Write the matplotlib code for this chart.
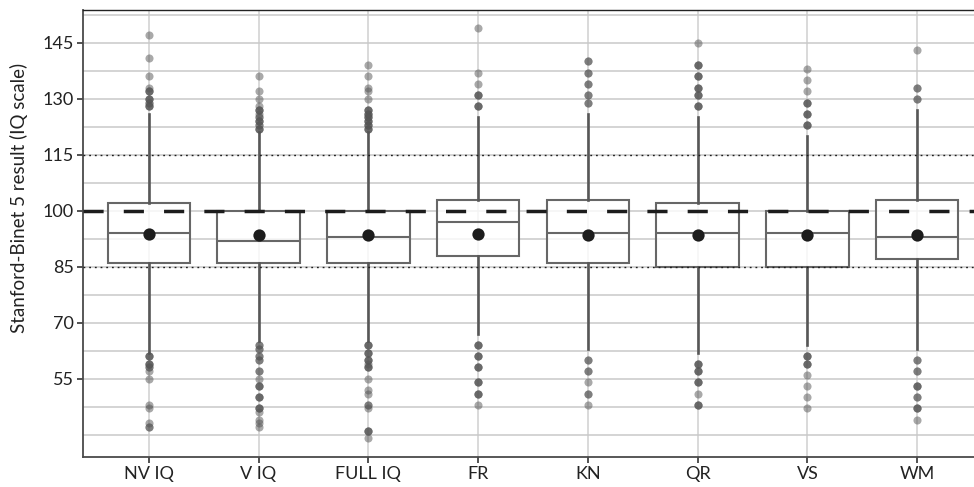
import numpy as np
import matplotlib
matplotlib.use('Agg')
import matplotlib.pyplot as plt

plt.rcParams['font.family'] = ['Lato', 'DejaVu Sans']
plt.rcParams['lines.scale_dashes'] = False

# Data
categories = ['NV IQ', 'V IQ', 'FULL IQ', 'FR', 'KN', 'QR', 'VS', 'WM']
q1 = [86, 86, 86, 88, 86, 85, 85, 87]
median = [94, 92, 93, 97, 94, 94, 94, 93]
q3 = [102, 100, 100, 103, 103, 102, 100, 103]
whisker_lo = [62, 65, 65, 67, 63, 62, 64, 63]
whisker_hi = [126, 121, 121, 125, 126, 125, 120, 127]
means = [93.8, 93.6, 93.4, 93.7, 93.6, 93.6, 93.4, 93.4]

# repeated values = several children with the same score (darker dots)
outliers = [
    [147, 141, 136, 133, 132, 132, 132, 130, 130, 130, 129, 129, 128, 128, 128,
     61, 61, 61, 59, 59, 59, 58, 58, 57, 55, 48, 47, 43, 42, 42],
    [136, 132, 130, 128, 127, 127, 127, 126, 125, 125, 124, 124, 124, 123, 123,
     122, 122, 122,
     64, 64, 63, 63, 61, 61, 60, 60, 57, 57, 55, 53, 53, 53, 50, 50, 50,
     47, 47, 47, 46, 44, 43, 42],
    [139, 136, 133, 132, 130, 127, 127, 127, 126, 126, 126, 125, 125, 125,
     124, 124, 124, 123, 123, 123, 122, 122, 122,
     64, 64, 64, 62, 62, 62, 60, 60, 60, 59, 58, 58, 58, 55, 52, 51, 48, 48,
     47, 41, 41, 41, 39],
    [149, 137, 134, 131, 131, 131, 128, 128, 128,
     64, 64, 64, 61, 61, 61, 58, 58, 58, 54, 54, 54, 51, 51, 51, 48],
    [140, 140, 137, 137, 134, 134, 131, 131, 129, 129,
     60, 60, 57, 57, 54, 51, 51, 48],
    [145, 139, 139, 139, 136, 136, 136, 133, 133, 133, 131, 131, 131,
     128, 128, 128,
     59, 59, 59, 57, 57, 57, 54, 54, 54, 51, 48, 48, 48],
    [138, 135, 132, 129, 129, 129, 126, 126, 126, 123, 123, 123,
     61, 61, 61, 59, 59, 59, 56, 53, 50, 47],
    [143, 133, 133, 130, 130,
     60, 60, 57, 57, 53, 53, 53, 50, 50, 47, 47, 47, 44],
]

yticks = [55, 70, 85, 100, 115, 130, 145]

fig = plt.figure(figsize=(9.74, 4.87), dpi=100)
ax = fig.add_axes([83 / 974, 30 / 487, 900 / 974, 447 / 487])

pos = np.arange(1, len(categories) + 1)

stats = []
for i, name in enumerate(categories):
    stats.append({'label': name, 'q1': q1[i], 'med': median[i], 'q3': q3[i],
                  'whislo': whisker_lo[i], 'whishi': whisker_hi[i],
                  'mean': means[i], 'fliers': []})

bp = ax.bxp(stats, positions=pos, widths=0.75, patch_artist=True,
            showfliers=False, showcaps=False, showmeans=False,
            boxprops=dict(facecolor=(1, 1, 1, 0.8), edgecolor='#676767', linewidth=1.5),
            medianprops=dict(color='#676767', linewidth=1.5),
            whiskerprops=dict(color='#575757', linewidth=1.9),
            zorder=2)

# outliers with transparency so ties look darker
for i, vals in enumerate(outliers):
    ax.scatter(np.full(len(vals), pos[i]), vals, s=34, color='#555555',
               alpha=0.5, linewidths=0, zorder=2.5)

ax.scatter(pos, means, s=78, color='#1c1c1c', linewidths=0, zorder=5)

# reference lines
ax.axhline(100, color='#1c1c1c', lw=2.5, dashes=(14.5, 14.5), zorder=4)
ax.axhline(115, color='#1c1c1c', lw=1.0, dashes=(1.3, 2.8), zorder=4)
ax.axhline(85, color='#1c1c1c', lw=1.0, dashes=(1.3, 2.8), zorder=4)

ax.set_xlim(0.4, 8.6)
ax.set_ylim(34, 153.8)
ax.set_xticks(pos)
ax.set_xticklabels(categories)
ax.set_yticks(yticks)
ax.set_yticks([40, 47.5, 62.5, 77.5, 92.5, 107.5, 122.5, 137.5, 152.5], minor=True)

ax.grid(True, which='both', axis='y', color='#c9c9c9', lw=1.1, zorder=0)
ax.grid(True, which='major', axis='x', color='#cfcfcf', lw=1.1, zorder=0)
ax.set_axisbelow(True)

for side in ['left', 'bottom']:
    ax.spines[side].set_color('#4a4a4a')
    ax.spines[side].set_linewidth(1.3)
ax.spines['top'].set_color('#222222')
ax.spines['top'].set_linewidth(1.0)

ax.tick_params(axis='both', which='major', length=4.5, width=1.2, color='#333333',
               labelsize=13, labelcolor='#222222', pad=2)
ax.tick_params(axis='y', which='minor', length=0)

ax.set_ylabel('Stanford-Binet 5 result (IQ scale)', fontsize=13.5, color='#222222')
ax.yaxis.set_label_coords(-0.061, 0.58)

fig.savefig('out.png', dpi=100)
